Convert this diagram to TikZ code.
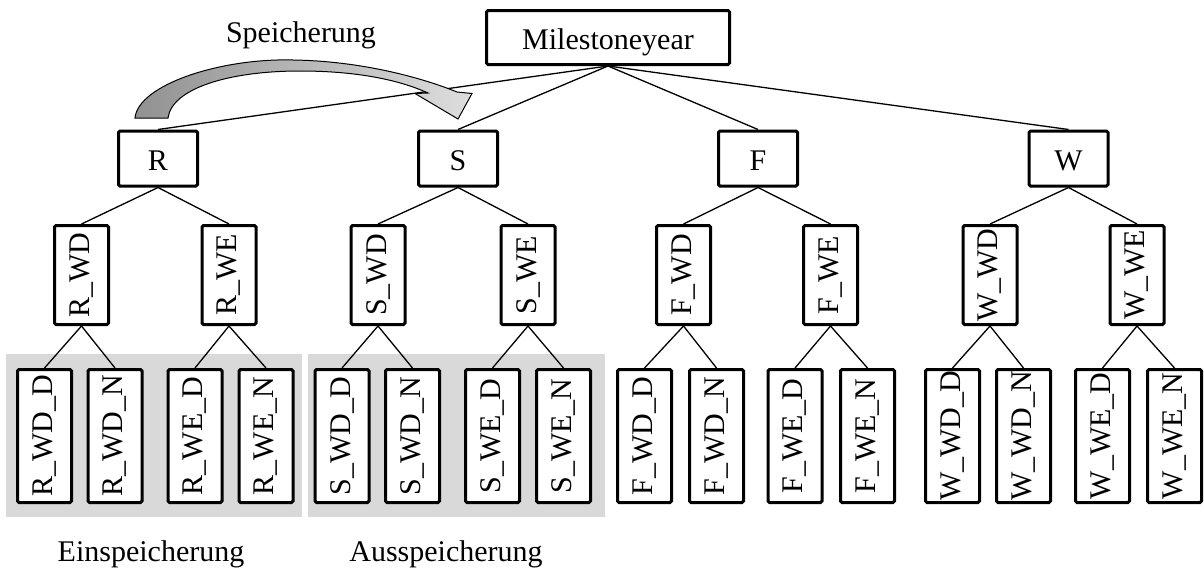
\documentclass[tikz,border=0pt]{standalone}
\usepackage{fontspec}
\setmainfont{Liberation Serif}
\usetikzlibrary{shadings}
\definecolor{panel}{RGB}{217,217,217}
\definecolor{arrowdark}{RGB}{145,145,145}
\definecolor{arrowlight}{RGB}{222,222,222}
\tikzset{
  box/.style={draw=black, line width=3pt, rounded corners=1.5pt, fill=white,
    inner sep=0pt, font=\fontsize{30}{36}\selectfont},
  topbox/.style={box, minimum width=243pt, minimum height=54pt, text height=24pt, text depth=0pt},
  seasonbox/.style={box, minimum width=79pt, minimum height=55pt, text height=24pt, text depth=0pt},
  daybox/.style={box, minimum width=54pt, minimum height=99pt},
  leafbox/.style={box, minimum width=54pt, minimum height=133pt},
  link/.style={line width=1.3pt, black},
  caption/.style={font=\fontsize{30}{36}\selectfont, inner sep=0pt, anchor=base},
}
\newcommand{\vtext}[1]{\rotatebox{90}{#1}}
\begin{document}
\begin{tikzpicture}[x=1pt,y=-1pt]
\useasboundingbox (0,0) rectangle (1204,570);

% shaded groups of leaves
\fill[panel] (6,354) rectangle (302,517);
\fill[panel] (308,354) rectangle (605,517);

% root and seasons
\node[topbox] (M) at (608,37.5) {Milestoneyear};
\node[seasonbox] (R) at (158,158.5) {R};
\node[seasonbox] (S) at (458,158.5) {S};
\node[seasonbox] (F) at (758,158.5) {F};
\node[seasonbox] (W) at (1068.5,158.5) {W};

% weekday / weekend
\node[daybox] (RWD) at (81.5,275) {\vtext{R\_WD}};
\node[daybox] (RWE) at (229,275) {\vtext{R\_WE}};
\node[daybox] (SWD) at (378,275) {\vtext{S\_WD}};
\node[daybox] (SWE) at (528,275) {\vtext{S\_WE}};
\node[daybox] (FWD) at (683.5,275) {\vtext{F\_WD}};
\node[daybox] (FWE) at (830.5,275) {\vtext{F\_WE}};
\node[daybox] (WWD) at (990,275) {\vtext{W\_WD}};
\node[daybox] (WWE) at (1137,275) {\vtext{W\_WE}};

% day / night
\node[leafbox] (RWDD) at (44.5,436) {\vtext{R\_WD\_D}};
\node[leafbox] (RWDN) at (115,436) {\vtext{R\_WD\_N}};
\node[leafbox] (RWED) at (195,436) {\vtext{R\_WE\_D}};
\node[leafbox] (RWEN) at (266,436) {\vtext{R\_WE\_N}};
\node[leafbox] (SWDD) at (342,436) {\vtext{S\_WD\_D}};
\node[leafbox] (SWDN) at (412.5,436) {\vtext{S\_WD\_N}};
\node[leafbox] (SWED) at (492.5,436) {\vtext{S\_WE\_D}};
\node[leafbox] (SWEN) at (563.5,436) {\vtext{S\_WE\_N}};
\node[leafbox] (FWDD) at (644.5,436) {\vtext{F\_WD\_D}};
\node[leafbox] (FWDN) at (716.5,436) {\vtext{F\_WD\_N}};
\node[leafbox] (FWED) at (795,436) {\vtext{F\_WE\_D}};
\node[leafbox] (FWEN) at (867.5,436) {\vtext{F\_WE\_N}};
\node[leafbox] (WWDD) at (952.5,436) {\vtext{W\_WD\_D}};
\node[leafbox] (WWDN) at (1023.5,436) {\vtext{W\_WD\_N}};
\node[leafbox] (WWED) at (1102.5,436) {\vtext{W\_WE\_D}};
\node[leafbox] (WWEN) at (1174.5,436) {\vtext{W\_WE\_N}};

% tree connectors
\foreach \c in {R,S,F,W} \draw[link] (M.south) -- (\c.north);
\foreach \p in {R,S,F,W} {
  \draw[link] (\p.south) -- (\p WD.north);
  \draw[link] (\p.south) -- (\p WE.north);
  \foreach \q in {WD,WE} {
    \draw[link] (\p\q.south) -- (\p\q D.north);
    \draw[link] (\p\q.south) -- (\p\q N.north);
  }
}

% curved storage arrow from R to S
\draw[line width=1pt, left color=arrowdark, right color=arrowlight, line join=miter]
  (135,118) .. controls (138,85) and (220,58) .. (293,60)
  .. controls (360,61) and (420,77) .. (457,92)
  -- (472,93.5) -- (458,119) -- (415,93.5) -- (428,93)
  .. controls (395,78) and (350,71) .. (300,71)
  .. controls (230,71) and (172,88) .. (168,118) -- cycle;

% captions
\node[caption] (cap1) at (301,42) {Speicherung};
\node[caption] (cap2) at (151,561) {Einspeicherung};
\node[caption] (cap3) at (446,561) {Ausspeicherung};
\end{tikzpicture}
\end{document}
